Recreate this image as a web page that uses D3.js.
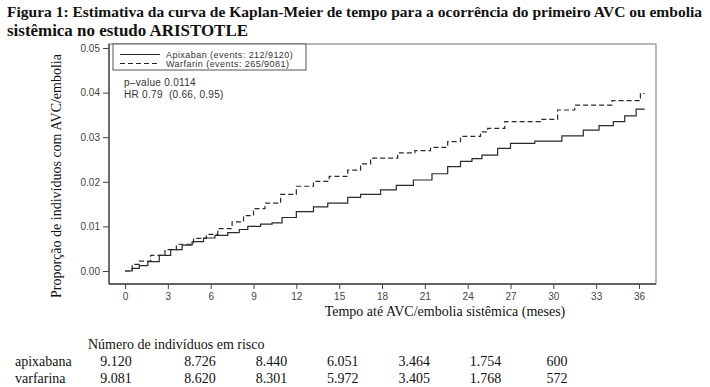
<!DOCTYPE html>
<html>
<head>
<meta charset="utf-8">
<script src="https://cdn.jsdelivr.net/npm/d3@7"></script>
<style>
  body { margin: 0; background: #fff; }
  svg { display: block; }
  .serif { font-family: "Liberation Serif", "Times New Roman", serif; fill: #111; }
  .sans { font-family: "Liberation Sans", Arial, sans-serif; fill: #333; }
</style>
</head>
<body>
<div id="chart"></div>
<script>
// ---- data
const titleLines = [
  "Figura 1: Estimativa da curva de Kaplan-Meier de tempo para a ocorrência do primeiro AVC ou embolia",
  "sistêmica no estudo ARISTOTLE"
];

const xTicks = [0, 3, 6, 9, 12, 15, 18, 21, 24, 27, 30, 33, 36];
const yTicks = [0, 0.01, 0.02, 0.03, 0.04, 0.05];

// apixaban (solid)
const apixTime = [0, 0.5, 1, 1.6, 2.4, 3.2, 4, 4.7, 5.5, 6.3, 7.2, 8, 8.6, 9.5, 10.3, 11, 12, 13.2, 14.2, 15.6, 16.5, 17.9, 19, 20.2, 21.5, 22.6, 23.5, 24.3, 25, 26.1, 27, 28.7, 30.6, 32.1, 33.2, 34.2, 35, 35.8, 36.4];
const apixValue = [0, 0.0006, 0.0012, 0.0021, 0.0035, 0.0048, 0.0058, 0.0066, 0.0074, 0.0080, 0.0086, 0.0093, 0.0100, 0.0105, 0.0108, 0.0120, 0.0133, 0.0144, 0.0152, 0.0165, 0.0172, 0.0182, 0.0192, 0.0204, 0.0218, 0.0234, 0.0246, 0.0252, 0.0260, 0.0275, 0.0286, 0.0291, 0.0303, 0.0316, 0.0326, 0.0335, 0.0348, 0.0363, 0.0363];

// warfarin (dashed)
const warfTime = [0, 0.5, 1, 1.8, 2.8, 3.6, 4.8, 5.7, 6.5, 7.5, 8.3, 9, 9.8, 10.9, 12, 13.2, 14.3, 15.6, 16.5, 17.2, 19.1, 20.3, 21.4, 22.6, 23.5, 24.9, 25.4, 26.6, 29.1, 30.3, 31.5, 34.1, 36.1, 36.4];
const warfValue = [0, 0.0015, 0.0022, 0.0035, 0.0048, 0.0060, 0.0073, 0.0082, 0.0095, 0.0110, 0.0124, 0.0140, 0.0152, 0.0172, 0.0190, 0.0201, 0.0212, 0.0226, 0.0240, 0.0253, 0.0265, 0.0270, 0.0277, 0.0290, 0.0302, 0.0312, 0.0320, 0.0335, 0.0340, 0.0361, 0.0372, 0.0382, 0.0398, 0.0398];

const legendLabels = ["Apixaban (events: 212/9120)", "Warfarin (events: 265/9081)"];
const statLines = ["p\u2013value 0.0114", "HR 0.79\u00a0\u00a0(0.66, 0.95)"];

const riskTitle = "Número de indivíduos em risco";
const riskGroups = ["apixabana", "varfarina"];
const riskApix = ["9.120", "8.726", "8.440", "6.051", "3.464", "1.754", "600"];
const riskWarf = ["9.081", "8.620", "8.301", "5.972", "3.405", "1.768", "572"];

// ---- layout
const width = 710, height = 387;
const frame = { left: 109, top: 44, right: 656, bottom: 284 };

const svg = d3.select("#chart").append("svg")
  .attr("width", width)
  .attr("height", height);

const x = d3.scaleLinear().domain([0, 36]).range([125, 639]);
const y = d3.scaleLinear().domain([0, 0.05]).range([271, 48]);

// title: grow font so each line spans the width of the scanned caption
const titleWidths = [695, 241];
svg.append("g").selectAll("text")
  .data(titleLines)
  .join("text")
  .attr("class", "serif")
  .attr("x", 7)
  .attr("y", (d, i) => 17 + i * 19)
  .attr("font-size", 15)
  .attr("font-weight", "bold")
  .text(d => d)
  .each(function(d, i) {
    const w = this.getComputedTextLength();
    if (w > 0) {
      const fs = Math.min(16, 15 * titleWidths[i] / w);
      d3.select(this).attr("font-size", fs);
    }
    d3.select(this)
      .attr("textLength", titleWidths[i])
      .attr("lengthAdjust", "spacingAndGlyphs");
  });

// frame
svg.append("rect")
  .attr("x", frame.left)
  .attr("y", frame.top)
  .attr("width", frame.right - frame.left)
  .attr("height", frame.bottom - frame.top)
  .attr("fill", "none")
  .attr("stroke", "#888")
  .attr("stroke-width", 1.2);

// axes
const yAxis = svg.append("g")
  .attr("transform", `translate(${frame.left},0)`)
  .call(d3.axisLeft(y).tickValues(yTicks).tickFormat(d3.format(".2f")).tickSize(6).tickPadding(3).tickSizeOuter(0));
yAxis.select(".domain").attr("d", `M0,${frame.top}V${frame.bottom}`).attr("stroke", "#444").attr("stroke-width", 1.3);

const xAxis = svg.append("g")
  .attr("transform", `translate(0,${frame.bottom})`)
  .call(d3.axisBottom(x).tickValues(xTicks).tickSize(5).tickSizeOuter(0));
xAxis.select(".domain").attr("d", `M${frame.left},0H${frame.right}`).attr("stroke", "#444").attr("stroke-width", 1.3);

svg.selectAll(".tick line").attr("stroke", "#444");
svg.selectAll(".tick text")
  .attr("font-family", "Liberation Sans, Arial, sans-serif")
  .attr("font-size", 10)
  .attr("fill", "#444");
xAxis.selectAll(".tick text").attr("dy", "0.75em");

// axis titles
svg.append("text")
  .attr("class", "serif")
  .attr("x", 445)
  .attr("y", 316)
  .attr("text-anchor", "middle")
  .attr("font-size", 14)
  .text("Tempo até AVC/embolia sistêmica (meses)");

svg.append("text")
  .attr("class", "serif")
  .attr("transform", "translate(61,176) rotate(-90)")
  .attr("text-anchor", "middle")
  .attr("font-size", 14)
  .text("Proporção de indivíduos com AVC/embolia");

// curves
const line = d3.line()
  .x(d => x(d[0]))
  .y(d => y(d[1]))
  .curve(d3.curveStepAfter);

const series = [
  { pts: d3.zip(apixTime, apixValue), dash: null },
  { pts: d3.zip(warfTime, warfValue), dash: "5,3" }
];

svg.append("g").selectAll("path")
  .data(series)
  .join("path")
  .attr("d", d => line(d.pts))
  .attr("fill", "none")
  .attr("stroke", "#2a2a2a")
  .attr("stroke-width", 1.2)
  .attr("stroke-dasharray", d => d.dash);

// legend
const leg = svg.append("g");
leg.append("rect")
  .attr("x", 113).attr("y", frame.top)
  .attr("width", 193).attr("height", 26)
  .attr("fill", "#fff")
  .attr("stroke", "#555")
  .attr("stroke-width", 1);

leg.selectAll("line")
  .data(legendLabels)
  .join("line")
  .attr("x1", 120).attr("x2", 160)
  .attr("y1", (d, i) => 54.5 + i * 9)
  .attr("y2", (d, i) => 54.5 + i * 9)
  .attr("stroke", "#222")
  .attr("stroke-width", 1)
  .attr("stroke-dasharray", (d, i) => i ? "5,3" : null);

leg.selectAll("text")
  .data(legendLabels)
  .join("text")
  .attr("class", "sans")
  .attr("x", 166)
  .attr("y", (d, i) => 57.5 + i * 9.5)
  .attr("font-size", 9)
  .attr("letter-spacing", 0.45)
  .text(d => d);

svg.append("g").selectAll("text")
  .data(statLines)
  .join("text")
  .attr("class", "sans")
  .attr("x", 124)
  .attr("y", (d, i) => 85.5 + i * 12.5)
  .attr("font-size", 10)
  .attr("letter-spacing", 0.3)
  .text(d => d);

// numbers at risk
svg.append("text")
  .attr("class", "serif")
  .attr("x", 88)
  .attr("y", 349)
  .attr("font-size", 14)
  .text(riskTitle);

// first column sits a bit further left than the evenly spaced others
const col = d3.scaleLinear().domain([1, 6]).range([200, 557]);
const colX = i => i === 0 ? 116 : col(i);

[riskApix, riskWarf].forEach((row, r) => {
  const g = svg.append("g").attr("transform", `translate(0,${366 + r * 17})`);
  g.append("text")
    .attr("class", "serif")
    .attr("x", 15)
    .attr("font-size", 14)
    .text(riskGroups[r]);
  g.selectAll(".n")
    .data(row)
    .join("text")
    .attr("class", "serif n")
    .attr("x", (d, i) => colX(i))
    .attr("text-anchor", "middle")
    .attr("font-size", 14)
    .text(d => d);
});
</script>
</body>
</html>
